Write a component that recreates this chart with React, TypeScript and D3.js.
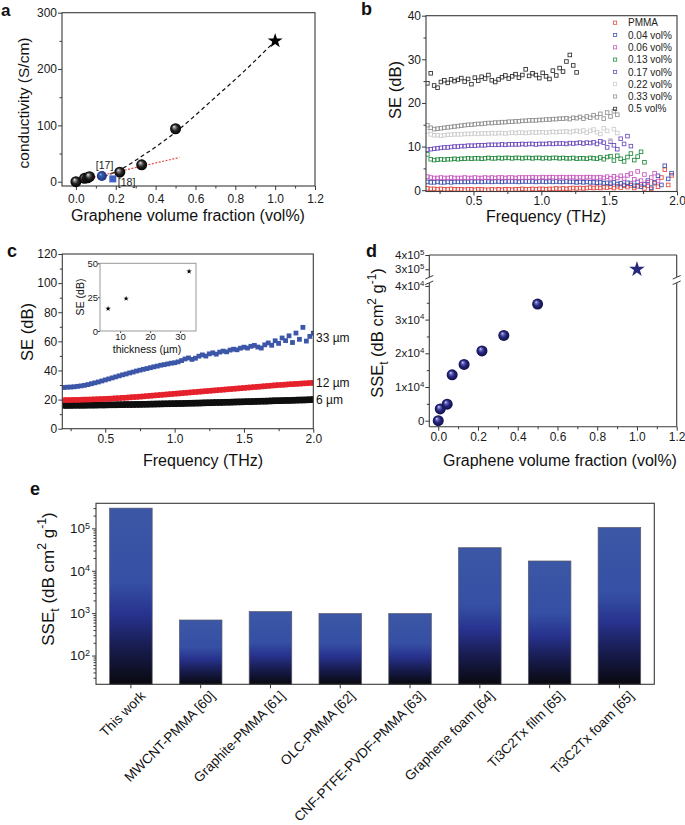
import React, { useEffect, useRef } from 'react';
import * as d3 from 'd3';

const FONT = "'Liberation Sans', Arial, Helvetica, sans-serif";
const INK = '#3a3a3a';

// ---- a: conductivity vs graphene fraction
const aFraction = [0, 0.043, 0.058, 0.068, 0.22, 0.33, 0.5];
const aConductivity = [0, 6, 7, 9, 17, 30, 94];
const aStar = [1.0, 250];
const aRefLabels = ['[17]', '[18]'];
const aRefFraction = [0.13, 0.185];
const aRefConductivity = [10, 5];
const aFitFraction = [0.14, 0.22, 0.33, 0.5, 0.7, 0.85, 1.0];
const aFitConductivity = [9, 21, 45, 88, 150, 198, 250];
const aLinFraction = [0.09, 0.52];
const aLinConductivity = [8, 43];

// ---- b: SE vs frequency for each loading
const bFreqStart = 0.16;
const bFreqStep = 0.025;
const bLabels = ['PMMA', '0.04 vol%', '0.06 vol%', '0.13 vol%', '0.17 vol%', '0.22 vol%', '0.33 vol%', '0.5 vol%'];
const bColors = ['#e5463c', '#3b4fb0', '#c653bd', '#20893c', '#6a48bd', '#cdcdcd', '#8e8e8e', '#2a2a2a'];
const bPMMA = [0.4, 0.3, 0.3, 0.2, 0.3, 0.2, 0.2, 0.3, 0.2, 0.2,
  0.2, 0.1, 0.2, 0.2, 0.1, 0.2, 0.2, 0.1, 0.1, 0.2,
  0.1, 0.2, 0.1, 0.2, 0.2, 0.1, 0.2, 0.2, 0.3, 0.2,
  0.2, 0.3, 0.2, 0.3, 0.3, 0.2, 0.3, 0.3, 0.4, 0.3,
  0.4, 0.3, 0.4, 0.5, 0.4, 0.5, 0.4, 0.5, 0.6, 0.5,
  0.6, 0.5, 0.7, 0.6, 0.8, 0.5, 0.9, 0.6, 1.0, 0.7,
  1.1, 0.5, 0.9, 1.3, 0.4, 1.0, 0.3, 1.6, 0.8, 2.9,
  4.7, 1.2, 3.4];
const b004 = [1.9, 1.8, 1.8, 1.9, 1.8, 1.8, 1.9, 1.8, 1.9, 1.9,
  1.9, 1.9, 1.9, 2.0, 1.9, 2.0, 1.9, 2.0, 2.0, 1.9,
  2.0, 2.0, 1.9, 2.0, 2.0, 2.0, 2.0, 1.9, 2.0, 2.0,
  2.0, 2.0, 1.9, 2.0, 2.0, 1.9, 2.0, 1.9, 2.0, 1.9,
  1.9, 2.0, 1.9, 1.9, 1.8, 1.9, 1.8, 1.9, 1.8, 1.8,
  1.7, 1.8, 1.6, 1.7, 1.5, 1.8, 1.4, 1.6, 1.2, 1.7,
  1.5, 1.0, 1.9, 0.8, 1.4, 2.2, 0.6, 1.8, 3.3, 1.2,
  5.6, 2.6, 3.9];
const b006 = [3.1, 2.9, 2.8, 2.8, 2.9, 2.8, 2.8, 2.9, 2.8, 2.8,
  2.8, 2.9, 2.8, 2.8, 2.9, 2.8, 2.8, 2.9, 2.8, 2.9,
  2.8, 2.9, 2.9, 2.8, 2.9, 2.9, 2.8, 2.9, 2.9, 2.9,
  2.9, 3.0, 2.9, 2.9, 3.0, 2.9, 3.0, 3.0, 2.9, 3.0,
  3.0, 2.9, 3.0, 3.0, 2.9, 3.0, 2.9, 3.0, 3.0, 2.9,
  2.9, 3.0, 2.8, 3.1, 2.7, 3.2, 2.8, 3.3, 2.6, 3.4,
  3.8, 2.5, 4.3, 2.2, 3.6, 1.8, 2.9, 3.9, 2.1];
const b013 = [8.2, 7.1, 6.9, 7.0, 7.1, 7.0, 7.1, 7.1, 7.2, 7.1,
  7.2, 7.2, 7.3, 7.2, 7.3, 7.3, 7.2, 7.3, 7.4, 7.3,
  7.3, 7.4, 7.3, 7.4, 7.4, 7.3, 7.4, 7.4, 7.3, 7.4,
  7.4, 7.3, 7.4, 7.4, 7.3, 7.4, 7.3, 7.4, 7.4, 7.3,
  7.4, 7.3, 7.3, 7.4, 7.2, 7.3, 7.3, 7.2, 7.4, 7.3,
  7.2, 7.5, 7.1, 7.6, 7.8, 6.8, 7.9, 7.2, 6.6, 7.6,
  8.4, 6.9, 7.7, 8.8, 6.4];
const b017 = [9.3, 9.4, 9.5, 9.6, 9.7, 9.8, 9.8, 9.9, 10.0, 10.0,
  10.1, 10.1, 10.2, 10.2, 10.2, 10.3, 10.3, 10.3, 10.4, 10.4,
  10.4, 10.4, 10.5, 10.4, 10.5, 10.5, 10.5, 10.5, 10.6, 10.5,
  10.6, 10.6, 10.5, 10.6, 10.6, 10.6, 10.7, 10.6, 10.7, 10.7,
  10.7, 10.6, 10.8, 10.7, 10.8, 10.9, 10.7, 10.9, 10.8, 11.0,
  10.6, 11.2, 10.9, 9.8, 11.1, 10.3, 9.4, 11.8, 10.6, 12.4,
  10.1];
const b022 = [13.5, 12.8, 12.6, 12.6, 12.5, 12.6, 12.7, 12.7, 12.8, 12.8,
  12.8, 12.9, 12.9, 12.9, 13.0, 12.9, 13.0, 13.0, 13.0, 13.1,
  13.0, 13.1, 13.1, 13.0, 13.1, 13.2, 13.1, 13.2, 13.2, 13.1,
  13.2, 13.3, 13.2, 13.3, 13.3, 13.2, 13.3, 13.4, 13.3, 13.4,
  13.4, 13.5, 13.3, 13.5, 13.6, 13.4, 13.7, 13.2, 13.6, 13.9,
  13.3, 12.9, 14.2, 13.6, 11.4, 14.0, 13.1];
const b033 = [14.9, 14.3, 14.0, 14.1, 14.2, 14.3, 14.4, 14.5, 14.6, 14.7,
  14.8, 14.9, 15.0, 15.0, 15.1, 15.2, 15.2, 15.3, 15.4, 15.4,
  15.5, 15.5, 15.6, 15.6, 15.7, 15.7, 15.8, 15.8, 15.9, 15.9,
  16.0, 16.0, 16.0, 16.1, 16.1, 16.2, 16.2, 16.3, 16.3, 16.4,
  16.4, 16.5, 16.3, 16.6, 16.5, 16.8, 16.4, 16.9, 16.6, 17.2,
  16.7, 17.5, 16.4, 17.8, 16.9, 18.1, 17.3];
const b05 = [24.5, 26.8, 24.0, 23.5, 24.8, 25.2, 24.6, 25.4, 25.0, 25.3,
  25.7, 24.9, 25.5, 24.3, 25.8, 25.1, 26.0, 25.6, 26.4, 25.2,
  24.8, 25.4, 25.9, 26.3, 25.6, 26.1, 26.6, 25.8, 26.4, 27.7,
  26.2, 26.8, 26.4, 25.7, 26.9, 26.1, 25.5, 27.4, 26.3, 28.0,
  27.2, 29.5, 31.0, 28.6, 27.0];
const bSeries = [bPMMA, b004, b006, b013, b017, b022, b033, b05];

// ---- c: SE vs frequency for three thicknesses
const cFreqStart = 0.2;
const cFreqStep = 0.025;
const c33um = [28.3, 28.5, 28.6, 28.8, 29.1, 29.4, 29.8, 30.3, 30.9, 31.5,
  32.1, 32.8, 33.5, 34.2, 34.9, 35.6, 36.3, 37.0, 37.6, 38.3,
  38.9, 39.6, 40.2, 40.8, 41.3, 41.9, 42.5, 43.0, 43.6, 44.0,
  44.5, 45.0, 45.3, 45.9, 46.8, 47.9, 48.6, 47.6, 48.4, 49.8,
  50.7, 49.9, 51.4, 52.1, 51.2, 52.6, 53.3, 52.8, 54.0, 54.6,
  54.2, 55.3, 56.0, 55.4, 56.6, 57.2, 56.1, 55.4, 57.6, 58.9,
  57.3, 60.4, 58.6, 62.3, 60.5, 63.8, 59.2, 65.7, 61.4, 69.6,
  60.2, 63.4, 65.6];
const c12um = [19.6, 19.7, 19.7, 19.8, 19.8, 19.9, 20.0, 20.0, 20.1, 20.2,
  20.3, 20.4, 20.5, 20.6, 20.7, 20.9, 21.0, 21.2, 21.3, 21.5,
  21.7, 21.8, 22.0, 22.2, 22.4, 22.6, 22.8, 23.0, 23.2, 23.4,
  23.6, 23.8, 24.0, 24.2, 24.4, 24.6, 24.8, 25.0, 25.2, 25.4,
  25.6, 25.8, 26.0, 26.2, 26.4, 26.6, 26.8, 27.0, 27.2, 27.4,
  27.6, 27.8, 28.0, 28.2, 28.4, 28.6, 28.8, 29.0, 29.2, 29.4,
  29.6, 29.8, 30.0, 30.1, 30.3, 30.5, 30.6, 30.8, 30.9, 31.1,
  31.2, 31.4, 31.5];
const c6um = [16.0, 16.0, 16.0, 16.1, 16.1, 16.1, 16.1, 16.2, 16.2, 16.2,
  16.3, 16.3, 16.3, 16.4, 16.4, 16.4, 16.5, 16.5, 16.6, 16.6,
  16.6, 16.7, 16.7, 16.8, 16.8, 16.9, 16.9, 17.0, 17.0, 17.1,
  17.1, 17.2, 17.2, 17.3, 17.3, 17.4, 17.5, 17.5, 17.6, 17.6,
  17.7, 17.8, 17.8, 17.9, 18.0, 18.0, 18.1, 18.2, 18.2, 18.3,
  18.4, 18.4, 18.5, 18.6, 18.6, 18.7, 18.8, 18.9, 18.9, 19.0,
  19.1, 19.2, 19.2, 19.3, 19.4, 19.4, 19.5, 19.6, 19.7, 19.7,
  19.8, 19.9, 20.0];
const cLabels = ['6 µm', '12 µm', '33 µm'];
const cLabelSE = [20, 31.5, 62];
const cThickness = [6, 12, 33];
const cInsetSE = [16.5, 24, 44];

// ---- d: specific SE vs fraction
const dFraction = [0, 0.01, 0.045, 0.07, 0.13, 0.22, 0.33, 0.5];
const dSSE = [0, 3500, 4900, 13600, 16700, 20700, 25300, 34600];
const dStar = [1.0, 300000];

// ---- e: comparison bars
const eMaterials = ['This work', 'MWCNT-PMMA [60]', 'Graphite-PMMA [61]', 'OLC-PMMA [62]',
  'CNF-PTFE-PVDF-PMMA [63]', 'Graphene foam [64]', 'Ti3C2Tx film [65]', 'Ti3C2Tx foam [65]'];
const eSSE = [300000, 690, 1090, 980, 980, 35000, 17000, 105000];

const styleAxis = (fs = 12) => (sel) => {
  sel.select('.domain').remove();
  sel.selectAll('.tick line').attr('stroke', INK).attr('stroke-width', 1);
  sel.selectAll('.tick text').attr('font-family', FONT).attr('font-size', fs).attr('fill', '#1a1a1a');
};

function frame(g, x, y, xMaj, xMin, yMaj, yMin, xFmt, yFmt, xPad = 2) {
  const [x0, x1] = x.range();
  const [yb, yt] = y.range();
  const bottom = g.append('g').attr('transform', `translate(0,${yb})`);
  bottom.append('g').call(d3.axisBottom(x).tickValues(xMin).tickSize(2.5).tickFormat(() => '')).call(styleAxis());
  bottom.append('g').call(d3.axisBottom(x).tickValues(xMaj).tickSize(4).tickPadding(xPad).tickFormat(xFmt)).call(styleAxis());
  const left = g.append('g').attr('transform', `translate(${x0},0)`);
  left.append('g').call(d3.axisLeft(y).tickValues(yMin).tickSize(2.5).tickFormat(() => '')).call(styleAxis());
  left.append('g').call(d3.axisLeft(y).tickValues(yMaj).tickSize(4).tickPadding(1).tickFormat(yFmt)).call(styleAxis());
  g.append('rect').attr('x', x0).attr('y', yt).attr('width', x1 - x0).attr('height', yb - yt)
    .attr('fill', 'none').attr('stroke', INK).attr('stroke-width', 1.1);
}

const App = () => {
  const svgRef = useRef(null);

  useEffect(() => {
    const svg = d3.select(svgRef.current);
    svg.selectAll('*').remove();
    const defs = svg.append('defs');

    const radial = (id, stops) => {
      const gr = defs.append('radialGradient').attr('id', id)
        .attr('cx', '50%').attr('cy', '50%').attr('r', '50%').attr('fx', '35%').attr('fy', '30%');
      stops.forEach(([o, c]) => gr.append('stop').attr('offset', o).attr('stop-color', c));
    };
    radial('sphK', [[0, '#f2f2f2'], [0.22, '#8c8c8c'], [0.55, '#262626'], [1, '#000']]);
    radial('sphN', [[0, '#dcdcf6'], [0.22, '#6d6dc4'], [0.55, '#26267c'], [1, '#0f0f48']]);
    radial('sphB', [[0, '#9fb3e6'], [0.3, '#3b5cb0'], [1, '#1b3275']]);
    const barG = defs.append('linearGradient').attr('id', 'barG').attr('x1', 0).attr('y1', 0).attr('x2', 0).attr('y2', 1);
    [[0, '#3c57a5'], [0.42, '#3550a4'], [0.6, '#28338f'], [0.8, '#171b4c'], [1, '#09090f']]
      .forEach(([o, c]) => barG.append('stop').attr('offset', o).attr('stop-color', c));

    const text = (x, y, s, size, anchor = 'start', weight = 'normal') =>
      svg.append('text').attr('x', x).attr('y', y).attr('text-anchor', anchor)
        .attr('font-family', FONT).attr('font-size', size).attr('font-weight', weight).attr('fill', '#111').text(s);
    const vtext = (x, y, size) =>
      svg.append('text').attr('transform', `translate(${x},${y}) rotate(-90)`).attr('text-anchor', 'middle')
        .attr('font-family', FONT).attr('font-size', size).attr('fill', '#111');
    const sseTitle = (x, y, size) => {
      const t = vtext(x, y, size);
      t.append('tspan').text('SSE');
      t.append('tspan').attr('dy', size * 0.3).attr('font-size', size * 0.72).text('t');
      t.append('tspan').attr('dy', -size * 0.3).text(' (dB cm');
      t.append('tspan').attr('dy', -size * 0.45).attr('font-size', size * 0.72).text('2');
      t.append('tspan').attr('dy', size * 0.45).text(' g');
      t.append('tspan').attr('dy', -size * 0.45).attr('font-size', size * 0.72).text('-1');
      t.append('tspan').attr('dy', size * 0.45).text(')');
    };
    const clip = (id, x, y) => {
      const [x0, x1] = x.range();
      const [yb, yt] = y.range();
      defs.append('clipPath').attr('id', id).append('rect')
        .attr('x', x0).attr('y', yt).attr('width', x1 - x0).attr('height', yb - yt);
    };

    // ================= a =================
    {
      const x = d3.scaleLinear().domain([-0.07, 1.2]).range([62, 315]);
      const y = d3.scaleLinear().domain([-7.6, 300]).range([186, 12.7]);
      const g = svg.append('g');
      frame(g, x, y, [0, 0.2, 0.4, 0.6, 0.8, 1.0, 1.2], [0.1, 0.3, 0.5, 0.7, 0.9, 1.1],
        [0, 100, 200, 300], [50, 150, 250], d3.format('.1f'), d3.format('d'), 4);

      const fit = d3.line().x((d) => x(d[0])).y((d) => y(d[1])).curve(d3.curveMonotoneX);
      g.append('path').attr('d', fit(aFitFraction.map((f, i) => [f, aFitConductivity[i]])))
        .attr('fill', 'none').attr('stroke', '#111').attr('stroke-width', 1.2).attr('stroke-dasharray', '4,3');
      g.append('path').attr('d', fit(aLinFraction.map((f, i) => [f, aLinConductivity[i]])))
        .attr('fill', 'none').attr('stroke', '#e0403a').attr('stroke-width', 1.1).attr('stroke-dasharray', '2,1.5');

      g.selectAll('circle.sph').data(aFraction).enter().append('circle').attr('class', 'sph')
        .attr('cx', (d) => x(d)).attr('cy', (d, i) => y(aConductivity[i])).attr('r', 5.5)
        .attr('fill', 'url(#sphK)');
      g.append('circle').attr('cx', x(aRefFraction[0])).attr('cy', y(aRefConductivity[0])).attr('r', 5)
        .attr('fill', 'url(#sphB)');
      g.append('rect').attr('x', x(aRefFraction[1]) - 3.5).attr('y', y(aRefConductivity[1]) - 3.5)
        .attr('width', 7).attr('height', 7).attr('fill', '#3f62c4');
      g.append('text').attr('x', x(aRefFraction[0]) - 6).attr('y', y(aRefConductivity[0]) - 7)
        .attr('font-family', FONT).attr('font-size', 10.5).attr('fill', '#222').text(aRefLabels[0]);
      g.append('text').attr('x', x(aRefFraction[1]) + 5).attr('y', y(aRefConductivity[1]) + 7)
        .attr('font-family', FONT).attr('font-size', 10.5).attr('fill', '#222').text(aRefLabels[1]);
      g.append('path').attr('d', d3.symbol(d3.symbolStar, 70)())
        .attr('transform', `translate(${x(aStar[0])},${y(aStar[1])})`).attr('fill', '#000');

      vtext(29, 103, 15.5).text('conductivity (S/cm)');
      text(188, 221, 'Graphene volume fraction (vol%)', 16, 'middle');
      text(1, 16, 'a', 17, 'start', 'bold');
    }

    // ================= b =================
    {
      const x = d3.scaleLinear().domain([0.15, 2.0]).range([426, 677]);
      const y = d3.scaleLinear().domain([-0.3, 40]).range([191.5, 15.7]);
      clip('clipB', x, y);
      const g = svg.append('g');
      const pts = g.append('g').attr('clip-path', 'url(#clipB)');
      bSeries.forEach((vals, k) => {
        pts.append('g').selectAll('rect').data(vals).enter().append('rect')
          .attr('x', (d, i) => x(bFreqStart + i * bFreqStep) - 1.8)
          .attr('y', (d) => y(d) - 1.8)
          .attr('width', 3.6).attr('height', 3.6)
          .attr('fill', 'none').attr('stroke', bColors[k]).attr('stroke-width', 0.85);
      });
      frame(g, x, y, [0.5, 1.0, 1.5, 2.0], [0.25, 0.75, 1.25, 1.75],
        [0, 10, 20, 30, 40], [5, 15, 25, 35], d3.format('.1f'), d3.format('d'), 1);

      const leg = g.append('g');
      bLabels.forEach((lab, k) => {
        const ly = 22.7 + k * 12.3;
        leg.append('rect').attr('x', 613.5).attr('y', ly - 1.6).attr('width', 3.2).attr('height', 3.2)
          .attr('fill', 'none').attr('stroke', bColors[k]).attr('stroke-width', 0.75);
        leg.append('text').attr('x', 628).attr('y', ly + 3.6).attr('font-family', FONT)
          .attr('font-size', 10).attr('fill', '#222').text(lab);
      });

      vtext(401, 90, 16.5).text('SE (dB)');
      text(546, 222, 'Frequency (THz)', 16, 'middle');
      text(361, 15, 'b', 18, 'start', 'bold');
    }

    // ================= c =================
    {
      const x = d3.scaleLinear().domain([0.19, 2.0]).range([62.3, 313.3]);
      const y = d3.scaleLinear().domain([0, 120]).range([428.7, 254]);
      clip('clipC', x, y);
      const g = svg.append('g');
      const pts = g.append('g').attr('clip-path', 'url(#clipC)');
      const series = [
        { vals: c6um, color: '#0e0e0e', s: 6.5 },
        { vals: c12um, color: '#e5222b', s: 5.5 },
        { vals: c33um, color: '#3c56a8', s: 4.8 },
      ];
      series.forEach(({ vals, color, s }) => {
        pts.append('g').selectAll('rect').data(vals).enter().append('rect')
          .attr('x', (d, i) => x(cFreqStart + i * cFreqStep) - s / 2)
          .attr('y', (d) => y(d) - s / 2)
          .attr('width', s).attr('height', s).attr('fill', color);
      });
      frame(g, x, y, [0.5, 1.0, 1.5, 2.0], [0.25, 0.75, 1.25, 1.75],
        [0, 20, 40, 60, 80, 100, 120], [10, 30, 50, 70, 90, 110], d3.format('.1f'), d3.format('d'), 2);
      cLabels.forEach((lab, k) => {
        g.append('text').attr('x', 316).attr('y', y(cLabelSE[k]) + 4).attr('font-family', FONT)
          .attr('font-size', 12).attr('fill', '#111').text(lab);
      });

      // inset
      const ix = d3.scaleLinear().domain([3.3, 35.3]).range([100, 196]);
      const iy = d3.scaleLinear().domain([0, 50]).range([331, 263.3]);
      const ig = svg.append('g');
      ig.append('rect').attr('x', 100).attr('y', 263.3).attr('width', 96).attr('height', 67.7).attr('fill', '#fff');
      const ib = ig.append('g').attr('transform', `translate(0,${iy.range()[0]})`);
      ib.call(d3.axisBottom(ix).tickValues([10, 20, 30]).tickSize(2).tickPadding(0).tickFormat(d3.format('d'))).call(styleAxis(9.5));
      const il = ig.append('g').attr('transform', `translate(${ix.range()[0]},0)`);
      il.call(d3.axisLeft(iy).tickValues([0, 25, 50]).tickSize(2).tickPadding(0).tickFormat(d3.format('d'))).call(styleAxis(9.5));
      ig.append('rect').attr('x', 100).attr('y', 263.3).attr('width', 96).attr('height', 67.7)
        .attr('fill', 'none').attr('stroke', '#999').attr('stroke-width', 1);
      ig.selectAll('path.st').data(cThickness).enter().append('path').attr('class', 'st')
        .attr('d', d3.symbol(d3.symbolStar, 9)())
        .attr('transform', (d, i) => `translate(${ix(d)},${iy(cInsetSE[i])})`).attr('fill', '#000');
      vtext(84, 297, 10.5).text('SE (dB)');
      text(147, 353, 'thickness (µm)', 10.5, 'middle');

      vtext(33, 332, 16.5).text('SE (dB)');
      text(203, 466, 'Frequency (THz)', 16, 'middle');
      text(7, 257, 'c', 18, 'start', 'bold');
    }

    // ================= d =================
    {
      const x = d3.scaleLinear().domain([-0.045, 1.2]).range([429.3, 676.7]);
      const yLow = d3.scaleLinear().domain([-1780, 40860]).range([426.7, 283]);
      const yHigh = d3.scaleLinear().domain([246000, 400000]).range([277, 255]);
      const g = svg.append('g');
      const [x0, x1] = x.range();
      const sci = (fs) => (sel) => sel.selectAll('.tick text').each(function (d) {
        const t = d3.select(this);
        t.text(null);
        if (d === 0) { t.text('0'); return; }
        const e = Math.floor(Math.log10(d));
        const m = Math.round(d / 10 ** e);
        t.append('tspan').text(`${m}x10`);
        t.append('tspan').attr('dy', '-0.55em').attr('font-size', fs * 0.68).text(e);
      });

      const bottom = g.append('g').attr('transform', `translate(0,${yLow.range()[0]})`);
      bottom.append('g').call(d3.axisBottom(x).tickValues([0.1, 0.3, 0.5, 0.7, 0.9, 1.1]).tickSize(2.5).tickFormat(() => '')).call(styleAxis());
      bottom.append('g').call(d3.axisBottom(x).tickValues([0, 0.2, 0.4, 0.6, 0.8, 1.0, 1.2]).tickSize(4).tickPadding(2).tickFormat(d3.format('.1f'))).call(styleAxis());
      const left = g.append('g').attr('transform', `translate(${x0},0)`);
      left.append('g').call(d3.axisLeft(yLow).tickValues([5000, 15000, 25000, 35000]).tickSize(2.5).tickFormat(() => '')).call(styleAxis());
      left.append('g').call(d3.axisLeft(yLow).tickValues([0, 10000, 20000, 30000, 40000]).tickSize(4).tickPadding(1))
        .call(styleAxis(11.5)).call(sci(11.5));
      left.append('g').call(d3.axisLeft(yHigh).tickValues([300000, 400000]).tickSize(4).tickPadding(1))
        .call(styleAxis(11.5)).call(sci(11.5));

      const line = (xa, ya, xb, yb, w = 1.1) => g.append('line').attr('x1', xa).attr('y1', ya).attr('x2', xb).attr('y2', yb)
        .attr('stroke', INK).attr('stroke-width', w);
      const [yb, yTopLow] = yLow.range();
      const [yBotHigh, yt] = yHigh.range();
      line(x0, yb, x1, yb);
      line(x0, yt, x1, yt);
      [x0, x1].forEach((xx) => {
        line(xx, yb, xx, yTopLow);
        line(xx, yBotHigh, xx, yt);
        line(xx - 4, yTopLow + 1.5, xx + 4, yTopLow - 2, 1);
        line(xx - 4, yBotHigh + 2, xx + 4, yBotHigh - 1.5, 1);
      });

      g.selectAll('circle.sph').data(dFraction).enter().append('circle').attr('class', 'sph')
        .attr('cx', (d) => x(d)).attr('cy', (d, i) => yLow(dSSE[i])).attr('r', 5.5)
        .attr('fill', 'url(#sphN)');
      g.append('path').attr('d', d3.symbol(d3.symbolStar, 75)())
        .attr('transform', `translate(${x(dStar[0])},${yHigh(dStar[1])})`).attr('fill', '#28287e');

      sseTitle(383, 333, 16.5);
      text(560, 466, 'Graphene volume fraction (vol%)', 16, 'middle');
      text(366, 257, 'd', 18, 'start', 'bold');
    }

    // ================= e =================
    {
      const x = d3.scaleBand().domain(eMaterials).range([96, 654.3]).paddingInner(0.39).paddingOuter(0.195);
      const y = d3.scaleLog().domain([21, 390000]).range([684.3, 503.3]);
      const g = svg.append('g');
      g.selectAll('rect.bar').data(eMaterials).enter().append('rect').attr('class', 'bar')
        .attr('x', (d) => x(d)).attr('width', x.bandwidth())
        .attr('y', (d, i) => y(eSSE[i])).attr('height', (d, i) => y.range()[0] - y(eSSE[i]))
        .attr('fill', 'url(#barG)').attr('stroke', '#5a5a6a').attr('stroke-width', 0.7);

      const minors = [];
      [10, 100, 1000, 10000, 100000].forEach((dec) => {
        for (let k = 2; k <= 9; k++) if (dec * k > 21 && dec * k < 390000) minors.push(dec * k);
      });
      const left = g.append('g').attr('transform', `translate(96,0)`);
      left.append('g').call(d3.axisLeft(y).tickValues(minors).tickSize(2.5).tickFormat(() => '')).call(styleAxis());
      left.append('g').call(d3.axisLeft(y).tickValues([100, 1000, 10000, 100000]).tickSize(4).tickPadding(2))
        .call(styleAxis(13.5))
        .call((sel) => sel.selectAll('.tick text').each(function (d) {
          const t = d3.select(this);
          t.text(null);
          t.append('tspan').text('10');
          t.append('tspan').attr('dy', '-0.5em').attr('font-size', 9).text(Math.round(Math.log10(d)));
        }));
      const bottom = g.append('g').attr('transform', `translate(0,${y.range()[0]})`);
      bottom.call(d3.axisBottom(x).tickSize(4).tickFormat(() => '')).call(styleAxis());
      g.append('rect').attr('x', 96).attr('y', 503.3).attr('width', 654.3 - 96).attr('height', 684.3 - 503.3)
        .attr('fill', 'none').attr('stroke', INK).attr('stroke-width', 1.1);

      g.selectAll('text.cat').data(eMaterials).enter().append('text').attr('class', 'cat')
        .attr('transform', (d) => `translate(${x(d) + x.bandwidth() / 2 + 12},${y.range()[0] + 9}) rotate(-45)`)
        .attr('text-anchor', 'end').attr('dy', '0.35em')
        .attr('font-family', FONT).attr('font-size', 13.5).attr('fill', '#111').text((d) => d);

      sseTitle(54, 579, 17);
      text(30, 495, 'e', 18, 'start', 'bold');
    }
  }, []);

  return (
    <svg ref={svgRef} width={685} height={825}
      style={{ position: 'absolute', left: 0, top: 0, background: '#fff' }} />
  );
};

export default App;
